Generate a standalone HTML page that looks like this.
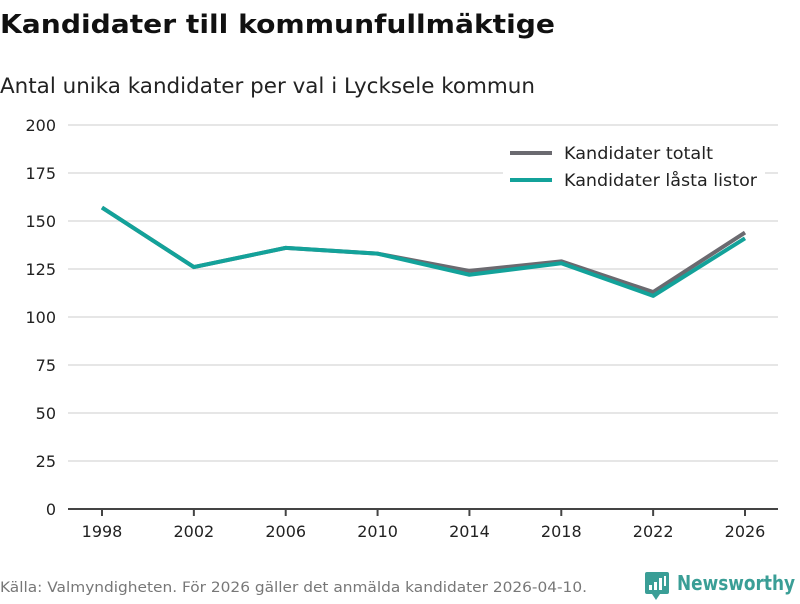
<!DOCTYPE html>
<html><head><meta charset="utf-8"><style>
body{margin:0;background:#fff;font-family:"DejaVu Sans","Liberation Sans",sans-serif;}
svg text{font-family:"DejaVu Sans","Liberation Sans",sans-serif;}
</style></head><body>
<svg width="800" height="600">
<text x="0" y="33" font-size="26" font-weight="bold" fill="#111" textLength="555" lengthAdjust="spacingAndGlyphs">Kandidater till kommunfullmäktige</text>
<text x="0" y="93" font-size="21" fill="#222" textLength="535" lengthAdjust="spacingAndGlyphs">Antal unika kandidater per val i Lycksele kommun</text>
<g id="grid"></g>
<g id="yt"></g>
<g id="xt"></g>
<g id="lines"></g>
<g>
<rect x="503" y="140" width="262" height="58" fill="#fff"/>
<line x1="510" y1="153" x2="552" y2="153" stroke="#6b6a70" stroke-width="4"/>
<text x="564" y="159" font-size="17" fill="#222" textLength="149" lengthAdjust="spacingAndGlyphs">Kandidater totalt</text>
<line x1="510" y1="180" x2="552" y2="180" stroke="#13a29a" stroke-width="4"/>
<text x="564" y="186" font-size="17" fill="#222" textLength="193" lengthAdjust="spacingAndGlyphs">Kandidater låsta listor</text>
</g>
<text x="0" y="592" font-size="14" fill="#777" textLength="587" lengthAdjust="spacingAndGlyphs">Källa: Valmyndigheten. För 2026 gäller det anmälda kandidater 2026-04-10.</text>
<g>
<rect x="645" y="572" width="24" height="22" rx="2" fill="#3a9e96"/>
<polygon points="652,594 660,594 656,600" fill="#3a9e96"/>
<rect x="649" y="585" width="3" height="5" fill="#fff"/><rect x="654" y="582" width="3" height="8" fill="#fff"/><rect x="659" y="578" width="3" height="12" fill="#fff"/><rect x="664" y="576" width="2" height="10" fill="#fff"/>
<text x="677" y="590" font-size="20" font-weight="bold" fill="#3a9e96" textLength="118" lengthAdjust="spacingAndGlyphs">Newsworthy</text>
</g>
</svg>
<script>
const years=[1998,2002,2006,2010,2014,2018,2022,2026];
const totalt=[157,126,136,133,124,129,113,144];
const lasta=[157,126,136,133,122,128,111,141];
const yTicks=[0,25,50,75,100,125,150,175,200];
const NS="http://www.w3.org/2000/svg";
const x=v=>102+(v-1998)*(745-102)/28;
const y=v=>509-v*1.92;
function mk(t,a,p){const e=document.createElementNS(NS,t);for(const k in a)e.setAttribute(k,a[k]);p.appendChild(e);return e;}
const g=document.getElementById('grid'),yt=document.getElementById('yt'),xt=document.getElementById('xt'),ln=document.getElementById('lines');
yTicks.forEach(v=>{
 if(v>0){const l=mk('line',{x1:68,x2:778,y1:y(v),y2:y(v),stroke:'#ddd','stroke-width':1.5},g);
 
 }
 const t=mk('text',{x:56,y:y(v)+6,'font-size':16,fill:'#222','text-anchor':'end'},yt);t.textContent=v;
 
 
});
mk('line',{x1:68,x2:778,y1:509,y2:509,stroke:'#444','stroke-width':2},xt);
years.forEach(v=>{
 mk('line',{x1:x(v),x2:x(v),y1:509,y2:516,stroke:'#444','stroke-width':2},xt);
 const t=mk('text',{x:x(v),y:537,'font-size':16,fill:'#222','text-anchor':'middle'},xt);t.textContent=v;
 
 
});
[[totalt,'#6b6a70','line-totalt'],[lasta,'#13a29a','line-lasta']].forEach(([d,c,n])=>{
 const p=mk('polyline',{points:d.map((v,i)=>x(years[i])+','+y(v)).join(' '),fill:'none',stroke:c,'stroke-width':4,'stroke-linejoin':'round'},ln);
 
 
});
</script>
</body></html>
